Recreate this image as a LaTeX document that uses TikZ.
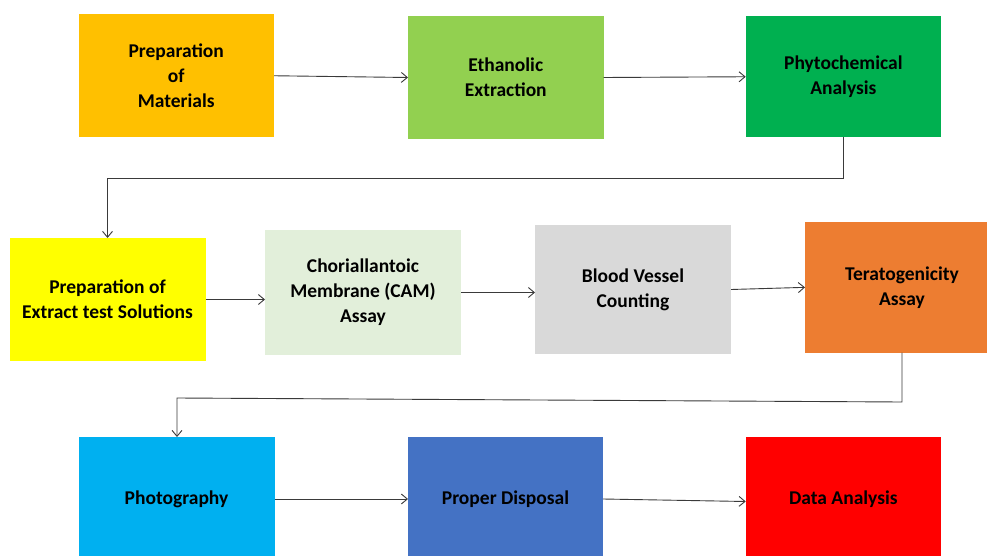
\documentclass[tikz,border=0pt]{standalone}
\usepackage{fontspec}
\setmainfont{Carlito}
\usetikzlibrary{arrows.meta,calc}
\definecolor{cA}{HTML}{FFC000}
\definecolor{cB}{HTML}{92D050}
\definecolor{cC}{HTML}{00B050}
\definecolor{cD}{HTML}{FFFF00}
\definecolor{cE}{HTML}{E2EFDA}
\definecolor{cF}{HTML}{D9D9D9}
\definecolor{cG}{HTML}{ED7D31}
\definecolor{cH}{HTML}{00B0F0}
\definecolor{cI}{HTML}{4472C4}
\definecolor{cJ}{HTML}{FF0000}
\definecolor{lineclr}{HTML}{3A3A3A}
\tikzset{
  box/.style={draw=none, inner sep=0pt, outer sep=0pt, align=center,
    text=black, font=\fontsize{19.5}{25}\selectfont\bfseries},
  conn/.style={draw=lineclr, line width=0.9pt},
  arr/.style={conn, -{Straight Barb[length=6pt,width=10pt,line width=0.9pt]}}
}
\begin{document}
\begin{tikzpicture}[x=1pt,y=-1pt]
\clip (0,0) rectangle (987,556);
\fill[white] (0,0) rectangle (987,556);
% row 1
\node[box, fill=cA, minimum width=195.5pt, minimum height=123.5pt] (b1) at (176.25,75.75) {Preparation\\of\\Materials};
\node[box, fill=cB, minimum width=195.5pt, minimum height=123pt] (b2) at (505.75,77.5) {Ethanolic\\Extraction};
\node[box, fill=cC, minimum width=195.3pt, minimum height=121.5pt] (b3) at (843.35,76.75) {Phytochemical\\Analysis};
% row 2
\node[box, fill=cD, minimum width=196pt, minimum height=123pt] (b4) at (107.5,299.5) {Preparation of\\Extract test Solutions};
\node[box, fill=cE, minimum width=196pt, minimum height=125pt] (b5) at (363,292.5) {Choriallantoic\\Membrane (CAM)\\Assay};
\node[box, fill=cF, minimum width=196pt, minimum height=129.6pt] (b6) at (633,289.5) {Blood Vessel\\Counting};
\node[box, fill=cG, minimum width=194pt, minimum height=130.7pt] (b7) at (902,287.35) {Teratogenicity\\Assay};
% row 3
\node[box, fill=cH, minimum width=196pt, minimum height=124pt] (b8) at (176.5,499) {Photography};
\node[box, fill=cI, minimum width=195pt, minimum height=124pt] (b9) at (505.5,499) {Proper Disposal};
\node[box, fill=cJ, minimum width=195.3pt, minimum height=124pt] (b10) at (843.35,499) {Data Analysis};
% bend points
\coordinate (k1) at (843.35,178);
\coordinate (k2) at (107.5,178);
\coordinate (k3) at (902,402);
\coordinate (k4) at (177,398);
% connectors
\draw[arr] (b1.east) -- (b2.west);
\draw[arr] (b2.east) -- (b3.west);
\draw[arr] (b3.south) -- (k1) -- (k2) -- (b4.north);
\draw[arr] (b4.east) -- (b4.east -| b5.west);
\draw[arr] (b5.east) -- (b5.east -| b6.west);
\draw[arr] (b6.east) -- (b7.west);
\draw[arr] (b7.south) -- (k3) -- (k4) -- (k4 |- b8.north);
\draw[arr] (b8.east) -- (b9.west);
\draw[arr] (b9.east) -- ([yshift=-2.5pt]b10.west);
\end{tikzpicture}
\end{document}
